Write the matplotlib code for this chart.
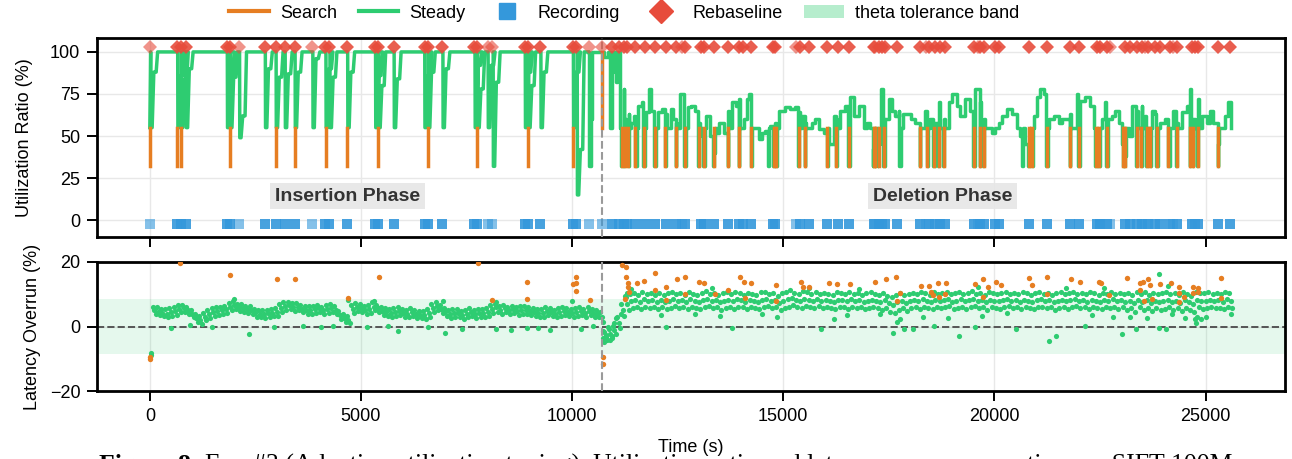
import matplotlib
matplotlib.use('Agg')
import matplotlib.pyplot as plt
import numpy as np
from matplotlib.lines import Line2D
from matplotlib.patches import Patch

plt.rcParams['font.family'] = ['Liberation Sans', 'DejaVu Sans']

GREEN = '#2ecc71'
ORANGE = '#e67e22'
BLUE = '#3498db'
RED = '#e74c3c'

PHASE_SPLIT = 10700
THETA = 8.5
FLOOR = 32
PROBE = 55

# --- insertion phase: dips away from the 100 % plateau ---
ins_t = [10, 650, 735, 850, 1825, 1900, 2115, 2725, 2980, 3195, 3430, 3850, 4160, 4255,
         4675, 5335, 5410, 5775, 6500, 6585, 6930, 7690, 7755, 8000, 8120, 8880, 8960,
         9250, 10020, 10110]
ins_search = [1, 1, 1, 0, 0, 1, 0, 0, 1, 0, 1, 0, 1, 0, 1, 0, 1, 0, 0, 1, 0, 0, 1, 0, 0, 0,
              1, 0, 1, 0]
ins_low = [55, 55, 55, 55, 55, 55, 49, 55, 55, 55, 55, 55, 55, 55, 55, 55, 55, 55, 55, 55,
           55, 55, 55, 55, 32, 55, 55, 55, 55, 15]
ins_mid = [88, 86, 84, 90, 82, 85, 62, 90, 85, 87, 88, 96, 90, 85, 88, 86, 80, 84, 86, 88,
           90, 92, 78, 92, 82, 88, 80, 88, 88, 42]

# --- transition + deletion phase trace (time, utilization) ---
ph2_t = [10380, 10400, 10440, 10470, 10760, 10850, 10905, 10940, 10965, 11040, 11060, 11080, 11135,
         11224, 11260, 11342, 11400, 11460, 11560, 11658, 11740, 11816, 11870, 11934, 12030, 12132,
         12230, 12329, 12400, 12463, 12565, 12644, 12740, 12825, 12920, 13015, 13080, 13173, 13275,
         13354, 13420, 13488, 13591, 13690, 13788, 13870, 13961, 14063, 14130, 14198, 14300, 14418,
         14500, 14576, 14695, 14813, 14900, 15050, 15150, 15286, 15360, 15444, 15520, 15602, 15690,
         15760, 15850, 15956,
         16075, 16193, 16270, 16351, 16470, 16588, 16667, 16785, 16903, 16980, 17061, 17130, 17179,
         17250, 17321, 17416, 17495, 17574, 17652, 17731, 17830, 17928, 18030, 18126, 18244, 18362,
         18481, 18599, 18678, 18796, 18915, 18994, 19112, 19191, 19309, 19427, 19546, 19664, 19743,
         19822, 19940, 20019, 20100, 20177, 20296, 20414, 20532, 20611, 20729, 20848, 20930, 21006,
         21084, 21163, 21281, 21399, 21517,
         21600, 21676, 21794, 21873, 21952, 22030, 22149, 22267, 22346, 22425, 22543, 22622, 22700,
         22780, 22858, 22937, 23016, 23095, 23174, 23253, 23371, 23490, 23568, 23647, 23727, 23805,
         23923, 24042, 24160, 24239, 24318, 24436, 24555, 24633, 24712, 24830, 24909, 25028, 25107,
         25186, 25303, 25382, 25461, 25540, 25597]
ph2_u = [100, 32, 60, 100, 97, 100, 55, 88, 100, 82, 100, 100, 55,
         78, 60, 63, 58, 62, 68, 70, 64, 78, 65, 60, 64, 66, 63, 66, 60, 58, 75, 62, 67, 68, 65, 58,
         50, 62, 50, 40, 52, 58, 52, 65, 70, 68, 72, 60, 72, 75, 55, 48, 52, 53, 56, 58, 65, 67, 66,
         67, 64, 62, 58, 55, 58, 60, 54, 52,
         45, 62, 60, 65, 68, 73, 62, 68, 55, 58, 55, 42, 40, 45, 78, 60, 72, 65, 62, 65, 63, 63, 60,
         58, 55, 65, 60, 58, 70, 60, 70, 75, 68, 62, 72, 65, 78, 70, 60, 55, 52, 55, 58, 62, 66, 63,
         55, 50, 45, 50, 62, 73, 78, 75, 60, 62, 58,
         60, 60, 63, 55, 75, 71, 73, 68, 55, 53, 60, 70, 60, 62, 65, 58, 45, 38, 50, 68, 65, 68, 62,
         55, 65, 63, 58, 60, 55, 65, 58, 64, 68, 78, 60, 72, 62, 58, 65, 58, 45, 55, 62, 70, 55]

del_search_t = [11170, 11248, 11327, 11500, 11697, 11957, 12210, 12463, 12667, 12998, 13117, 13354,
                13693, 13961, 14238, 14773, 14829, 15365, 15523, 16036, 16256, 16548, 17139, 17179,
                17258, 17376, 18244, 18402, 18560, 18678, 18796, 19506, 19664, 19743, 20807, 20887,
                21242, 21794, 21991, 22402, 22464, 22662, 23055, 23095, 23371, 23474, 23608, 23687,
                23845, 24120, 24318, 24633, 24712, 24815, 25303]
del_floor_t = [14640, 17750, 20650]
handover_t = [10712]

# --- rebaseline / recording events ---
event_t = [640, 735, 850, 1835, 1900, 2725, 2980, 3195, 3430, 4150, 4250, 4675, 5335, 5410, 5780,
           6510, 6590, 6926, 7680, 7755, 8880, 8960, 9250, 10020, 10100,
           10948, 11105, 11223, 11303, 11500, 11720, 11960, 12234, 12470, 12667, 13050, 13116,
           13355, 13700, 13950, 14040, 14235, 14760, 14813, 15404, 15601, 16036, 16285, 16548,
           17139, 17258, 17329, 17416, 17692, 18244, 18441, 18599, 18718, 18836, 19506, 19664,
           19743, 20019, 20097, 20807, 21242, 21794, 21991, 22425, 22504, 22662, 23095, 23213,
           23371, 23490, 23646, 23805, 23923, 24160, 24318, 24673, 24752, 24830, 25303, 25580]
event_light_t = [12, 2115, 3850, 8000, 8110, 10400, 10700, 12612, 15300, 17180, 18372, 19612,
                 22740, 23560, 24230]

# --- latency overrun, steady samples every 100 s (upper / middle / lower part of the cloud) ---
lat_up = [6.1, 5.9, 5.5, 5.4, 5.6, 6.0, 6.6, 6.8, 6.2, 5.1,
          3.8, 3.3, 4.2, 5.0, 5.8, 5.9, 6.2, 6.5, 7.4, 7.9,
          7.1, 6.9, 6.5, 6.3, 5.4, 5.0, 5.1, 5.2, 5.5, 5.8,
          6.9, 7.5, 7.6, 7.2, 7.3, 6.7, 6.4, 6.3, 6.5, 6.8,
          6.2, 6.6, 7.0, 6.3, 4.9, 3.8, 3.4, 6.6, 7.3, 7.0,
          6.4, 6.7, 7.5, 6.8, 6.0, 5.7, 5.4, 5.8, 6.1, 5.3,
          5.2, 5.6, 5.1, 4.9, 4.7, 5.3, 6.9, 7.6, 6.6, 5.7,
          5.0, 5.3, 5.5, 4.8, 5.2, 5.6, 5.0, 5.3, 5.5, 5.8,
          6.8, 7.1, 6.3, 6.8, 6.2, 6.5, 5.9, 6.3, 6.5, 6.0,
          5.7, 5.4, 5.3, 5.9, 5.6, 5.2, 5.7, 6.0, 5.8, 5.5,
          5.7, 6.1, 5.3, 5.9, 5.5, 5.2, 4.5, -1.8, -0.9, 0.3,
          2.9, 7.0, 9.2, 10.1, 10.4, 9.7, 10.6, 10.2, 10.3, 9.9,
          10.5, 9.9, 10.3, 10.8, 10.0, 10.4, 9.8, 10.7, 10.2, 9.9,
          10.4, 10.9, 10.1, 10.5, 9.7, 10.3, 10.6, 10.0, 10.8, 10.3,
          9.9, 10.5, 10.2, 9.8, 10.6, 10.8, 10.1, 10.4, 9.6, 10.3,
          10.7, 11.2, 10.5, 10.1, 10.9, 10.6, 10.2, 10.8, 10.0, 10.5,
          10.2, 9.8, 10.6, 10.3, 10.0, 10.7, 10.1, 10.5, 9.9, 10.3,
          10.6, 10.1, 9.8, 10.4, 9.6, 9.3, 9.9, 10.3, 9.7, 10.2,
          10.5, 10.0, 10.7, 10.3, 9.9, 10.6, 10.2, 10.4, 10.8, 10.0,
          10.3, 10.7, 10.1, 10.5, 10.9, 10.2, 10.4, 9.8, 10.6, 10.3,
          10.1, 10.5, 10.8, 10.2, 10.4, 10.0, 10.6, 10.3, 9.9, 10.5,
          10.7, 10.2, 10.4, 9.8, 10.3, 10.6, 10.1, 10.5, 10.8, 10.2,
          10.4, 10.0, 10.6, 10.3, 9.9, 10.5, 10.2, 10.7, 10.1, 10.4,
          10.0, 10.4, 9.8, 10.8, 10.2, 10.6, 9.9, 10.5, 10.1, 10.4,
          10.7, 10.1, 10.5, 9.9, 10.6, 10.2, 9.6, 10.8, 10.3, 10.5,
          10.6, 10.2, 10.4, 10.0, 10.7, 10.3]
lat_mid = [5.0, 4.6, 4.3, 4.0, 4.4, 4.8, 5.5, 5.7, 5.0, 3.9,
           2.6, 2.1, 3.1, 3.9, 4.5, 4.7, 5.0, 5.4, 6.2, 6.6,
           6.0, 5.7, 5.4, 5.0, 4.2, 3.9, 3.8, 4.1, 4.3, 4.6,
           5.8, 6.3, 6.6, 6.0, 6.1, 5.5, 5.2, 5.0, 5.3, 5.6,
           5.0, 5.4, 5.8, 5.1, 3.6, 2.6, 2.1, 5.4, 6.0, 5.8,
           5.2, 5.5, 6.2, 5.6, 4.8, 4.5, 4.2, 4.6, 4.9, 4.1,
           4.0, 4.4, 3.9, 3.7, 3.5, 4.1, 5.6, 6.3, 5.4, 4.5,
           3.8, 4.1, 4.3, 3.5, 4.0, 4.4, 3.8, 4.1, 4.2, 4.6,
           5.5, 5.9, 5.1, 5.6, 5.0, 5.3, 4.7, 5.1, 5.2, 4.8,
           4.5, 4.2, 4.1, 4.7, 4.4, 4.0, 4.5, 4.8, 4.6, 4.3,
           4.5, 4.9, 4.1, 4.7, 4.3, 4.0, 3.0, -3.2, -2.4, -1.0,
           1.2, 5.0, 7.0, 7.8, 8.2, 7.5, 8.4, 7.9, 8.1, 7.6,
           8.3, 7.7, 8.0, 8.5, 7.8, 8.2, 7.6, 8.4, 8.0, 7.7,
           8.1, 8.6, 7.9, 8.2, 7.5, 8.0, 8.3, 7.8, 8.4, 8.1,
           7.7, 8.2, 8.0, 7.6, 8.3, 8.5, 7.9, 8.1, 7.4, 8.0,
           8.4, 8.8, 8.2, 7.9, 8.6, 8.3, 8.0, 8.5, 7.8, 8.2,
           8.0, 7.6, 8.3, 8.1, 7.8, 8.4, 7.9, 8.2, 7.7, 8.0,
           8.3, 7.9, 7.5, 8.1, 7.2, 6.8, 7.6, 8.0, 7.4, 7.9,
           8.2, 7.8, 8.4, 8.0, 7.6, 8.3, 7.9, 8.1, 8.5, 7.7,
           8.0, 8.4, 7.8, 8.2, 8.6, 7.9, 8.1, 7.5, 8.3, 8.0,
           7.8, 8.2, 8.5, 7.9, 8.1, 7.7, 8.3, 8.0, 7.6, 8.2,
           8.4, 7.9, 8.1, 7.5, 8.0, 8.3, 7.8, 8.2, 8.5, 7.9,
           8.1, 7.7, 8.3, 8.0, 7.6, 8.2, 7.9, 8.4, 7.8, 8.1,
           7.5, 8.0, 7.2, 8.3, 7.7, 8.1, 7.4, 8.0, 7.6, 7.9,
           8.2, 7.6, 8.0, 7.3, 8.1, 7.7, 7.0, 8.2, 7.8, 8.0,
           8.3, 7.9, 8.1, 7.7, 8.4, 8.0]
lat_dn = [3.9, 3.5, 3.2, 2.9, 3.3, 3.7, 4.4, 4.5, 3.9, 2.8,
          1.4, 0.9, 2.0, 2.7, 3.4, 3.5, 3.9, 4.2, 5.1, 5.3,
          4.8, 4.6, 4.2, 3.8, 3.0, 2.8, 2.6, 3.0, 3.2, 3.4,
          4.6, 5.1, 5.5, 4.8, 5.0, 4.4, 4.0, 3.8, 4.2, 4.4,
          3.8, 4.3, 4.6, 3.9, 2.4, 1.5, 1.0, 4.2, 4.8, 4.6,
          4.0, 4.3, 5.0, 4.4, 3.6, 3.3, 3.0, 3.4, 3.7, 2.9,
          2.8, 3.2, 2.7, 2.5, 2.3, 2.9, 4.4, 5.1, 4.2, 3.3,
          2.6, 2.9, 3.1, 2.3, 2.8, 3.2, 2.6, 2.9, 3.0, 3.4,
          4.3, 4.6, 3.9, 4.4, 3.8, 4.1, 3.5, 3.9, 4.0, 3.6,
          3.3, 3.0, 2.9, 3.5, 3.2, 2.8, 3.3, 3.6, 3.4, 3.1,
          3.3, 3.7, 2.9, 3.5, 3.1, 2.8, 1.5, -4.2, -3.6, -2.2,
          -0.4, 3.2, 5.0, 5.6, 6.0, 5.3, 6.2, 5.7, 5.9, 5.4,
          6.1, 5.5, 5.8, 6.3, 5.6, 6.0, 5.3, 6.2, 5.8, 5.4,
          5.9, 6.4, 5.7, 6.0, 5.2, 5.8, 6.1, 5.5, 6.2, 5.9,
          5.4, 6.0, 5.8, 5.3, 6.1, 6.3, 5.7, 5.9, 5.1, 5.8,
          6.2, 6.6, 6.0, 5.7, 6.4, 6.1, 5.8, 6.3, 5.6, 6.0,
          5.8, 5.3, 6.1, 5.9, 5.5, 6.2, 5.7, 6.0, 5.4, 5.8,
          6.0, 5.6, 5.0, 5.8, 4.6, 4.2, 5.1, 5.7, 4.9, 5.6,
          6.0, 5.5, 6.2, 5.8, 5.3, 6.1, 5.6, 5.9, 6.3, 5.4,
          5.8, 6.2, 5.5, 6.0, 6.4, 5.7, 5.9, 5.2, 6.1, 5.8,
          5.5, 6.0, 6.3, 5.7, 5.9, 5.4, 6.1, 5.8, 5.3, 6.0,
          6.2, 5.6, 5.9, 5.2, 5.8, 6.1, 5.5, 6.0, 6.3, 5.7,
          5.9, 5.4, 6.1, 5.8, 5.3, 6.0, 5.6, 6.2, 5.5, 5.9,
          5.0, 5.7, 4.6, 6.0, 5.2, 5.8, 4.9, 5.7, 5.1, 5.5,
          5.9, 5.1, 5.7, 4.8, 5.8, 5.2, 4.4, 6.0, 5.5, 5.7,
          6.1, 5.6, 5.8, 5.4, 6.2, 5.7]

# steady samples away from the main cloud
lat_out_t = [20, 30, 500, 960, 1470, 2000, 2340, 2950, 3620, 4060, 4330, 4700, 5140, 5300, 5650,
             5880, 6580, 6950, 7000, 7400, 8190, 8200, 8550, 8920, 9200, 9480, 10000, 10220, 10500,
             10720, 10740, 10760, 10800, 10850, 10900, 10950, 11000, 11050, 11150, 11250, 11300,
             11400, 12100, 12230, 12900, 13300, 13500, 13780, 14500, 14850, 15600, 15900, 16200,
             16500, 16800, 17300, 17590, 17690, 17770, 17850, 18080, 18300, 18580, 18900, 19170,
             19550, 19600, 19700, 20300, 20500, 21280, 21460, 21700, 22150, 22300, 22600, 22800,
             23020, 23200, 23340, 23600, 23900, 23905, 24060, 24100, 24200, 24500, 24760, 24780,
             24790, 24900, 25000, 25600]
lat_out_v = [-8.2, -8.8, -0.4, 0.5, 0.0, 8.4, -2.3, 0.0, 0.3, -0.2, 0.2, 8.2, 0.0, 8.0, 0.1,
             -1.5, 0.0, 8.0, -1.9, -0.9, -0.7, 7.6, -1.2, -0.5, -0.4, -1.0, 8.0, -0.7, 0.1,
             -1.5, -3.5, -4.8, -2.5, -0.3, -4.2, -3.0, 1.2, 2.5, 3.9, 9.5, 10.5,
             11.5, 3.5, -0.3, 4.0, 11.8, 3.2, -0.6, 3.8, 2.8, 12.0, -0.9, 2.2,
             3.5, 11.5, 4.0, -2.1, 1.5, 2.2, -0.9, -0.8, 3.0, 0.3, 2.5, -2.9,
             0.0, 12.3, 3.2, 4.2, -0.8, -4.5, -2.9, 11.8, 0.1, 3.5, 12.0, 2.8,
             -2.2, 3.0, -0.8, 2.5, -0.4, 16.3, -0.8, 12.5, 3.8, 2.6, 2.2, 1.1,
             2.8, 2.4, 3.0, 4.0]

# search samples
search_lat_t = [10, 10, 716, 1905, 3003, 3436, 4702, 5419, 7766, 8109, 8935, 8935, 10024, 10093,
                10093, 10093, 10416, 10731, 10731, 11183, 11271, 11271, 11320, 11320, 11340, 11250,
                11524, 11697, 11964, 11964, 12231, 12231, 12488, 12676, 12676, 13003, 13121, 13377,
                13694, 13971, 14068, 14236, 14100, 14829, 14829, 15423, 15470, 15617, 16084, 16282,
                16578, 17182, 17428, 17676, 17700, 17764, 18268, 18455, 18653, 18851, 18500, 18690,
                18550, 18840, 19543, 19740, 19740, 19839, 20047, 20166, 20807, 20885, 21252, 21252,
                21816, 22023, 22470, 22516, 22705, 23129, 23446, 23524, 23624, 23693, 23456, 23740,
                23530, 23919, 24186, 24364, 24364, 24364, 24480, 24709, 24808, 24709, 24808, 25353,
                25353]
search_lat_v = [-9.3, -10.1, 19.8, 15.9, 14.6, 14.6, 8.8, 15.3, 19.8, 8.2, 13.7, 8.6, 13.2, 15.4,
                13.6, 11.1, 8.2, -9.6, -11.6, 19.1, 18.6, 15.4, 13.6, 12.4, 10.8, 8.4,
                13.6, 14.2, 16.5, 11.3, 12.3, 8.2, 14.6, 15.2, 10.2, 13.9, 13.4, 10.2,
                11.3, 15.4, 13.9, 13.6, 8.7, 12.9, 7.9, 13.9, 12.4, 12.4, 13.6, 13.2,
                13.2, 13.7, 14.6, 15.2, 8.0, 10.5, 12.6, 12.6, 13.4, 13.4, 10.8, 9.3,
                9.8, 10.1, 13.2, 14.6, 9.3, 12.3, 13.9, 12.9, 14.9, 12.9, 15.2, 10.2,
                14.6, 13.7, 13.9, 13.4, 9.8, 15.1, 13.4, 13.9, 14.6, 12.9, 11.3, 8.4,
                7.9, 13.2, 13.6, 12.4, 10.5, 7.7, 9.0, 12.4, 11.8, 10.3, 10.8, 15.1,
                8.7]

# ---------------- build line traces ----------------
ins_x, ins_y = [0], [PROBE]
for t0, lo, mid in zip(ins_t, ins_low, ins_mid):
    ins_x += [t0 + 10, t0 + 15, t0 + 45, t0 + 85, t0 + 140, t0 + 175]
    ins_y += [100, lo, lo, mid, mid, 100]
ins_x.append(ph2_t[0])
ins_y.append(100)

pts = list(zip(ph2_t, ph2_u))
for te in del_search_t:
    pts += [(te - 10, FLOOR), (te + 25, PROBE)]
for te in del_floor_t:
    pts += [(te, FLOOR), (te + 30, PROBE)]
pts.sort()
ph2_x = [p[0] for p in pts]
ph2_y = [p[1] for p in pts]

ox, oy = [], []
for t0, s in zip(ins_t, ins_search):
    if s:
        ox += [t0, t0, np.nan]
        oy += [PROBE, FLOOR, np.nan]
for te in del_search_t:
    ox += [te, te, np.nan]
    oy += [FLOOR, PROBE, np.nan]
for te in handover_t:
    ox += [te, te, np.nan]
    oy += [100, PROBE, np.nan]

# ---------------- figure ----------------
fig = plt.figure(figsize=(12.92, 4.59), dpi=100)
ax1 = fig.add_axes([0.0751, 0.4837, 0.9195, 0.4336])
ax2 = fig.add_axes([0.0751, 0.1481, 0.9195, 0.2811], sharex=ax1)

for ax in (ax1, ax2):
    ax.grid(True, color='#e8e8e8', linewidth=1.0, zorder=0)
    ax.set_axisbelow(True)
    for sp in ax.spines.values():
        sp.set_linewidth(2.0)
    ax.tick_params(direction='out', length=7, width=1.4, pad=5, labelsize=13)
    ax.axvline(PHASE_SPLIT, color='#9a9a9a', linestyle='--', linewidth=1.5, zorder=5)

# top panel
ax1.plot(ins_x, ins_y, color=GREEN, linewidth=2.5, zorder=3)
ax1.plot(ph2_x, ph2_y, color=GREEN, linewidth=2.5, drawstyle='steps-post', zorder=3)
ax1.plot(ox, oy, color=ORANGE, linewidth=2.5, zorder=4)

ax1.plot(event_t, [103] * len(event_t), 'D', color=RED, ms=7.5, mew=0, alpha=0.9, zorder=6)
ax1.plot(event_light_t, [103] * len(event_light_t), 'D', color=RED, ms=7.5, mew=0, alpha=0.6, zorder=6)
ax1.plot(event_t, [-2.5] * len(event_t), 's', color=BLUE, ms=6.5, mew=0, alpha=0.9, zorder=6)
ax1.plot(event_light_t, [-2.5] * len(event_light_t), 's', color=BLUE, ms=6.5, mew=0, alpha=0.6, zorder=6)

box = dict(boxstyle='square,pad=0.25', facecolor='#e6e6e6', edgecolor='none', alpha=0.9)
ax1.text(4685, 14.3, 'Insertion Phase', ha='center', va='center', fontsize=14,
         fontweight='bold', color='#333333', bbox=box, zorder=7)
ax1.text(18765, 14.3, 'Deletion Phase', ha='center', va='center', fontsize=14,
         fontweight='bold', color='#333333', bbox=box, zorder=7)

ax1.set_ylim(-10, 108.3)
ax1.set_yticks([0, 25, 50, 75, 100])
ax1.set_ylabel('Utilization Ratio (%)', fontsize=13, labelpad=12)
ax1.tick_params(labelbottom=False)

# bottom panel
lat_grid = 100 * np.arange(1, len(lat_mid) + 1)
ax2.axhspan(-THETA, THETA, color=GREEN, alpha=0.12, linewidth=0, zorder=1)
ax2.axhline(0, color='#555555', linestyle='--', linewidth=1.4, zorder=2)
ax2.scatter(lat_grid - 35, lat_up, s=14, color=GREEN, linewidths=0, zorder=3)
ax2.scatter(lat_grid, lat_mid, s=14, color=GREEN, linewidths=0, zorder=3)
ax2.scatter(lat_grid + 35, lat_dn, s=14, color=GREEN, linewidths=0, zorder=3)
ax2.scatter(lat_out_t, lat_out_v, s=14, color=GREEN, linewidths=0, zorder=3)
ax2.scatter(search_lat_t, search_lat_v, s=15, color=ORANGE, linewidths=0, zorder=4)

ax2.set_ylim(-20, 20)
ax2.set_yticks([-20, 0, 20])
ax2.set_xlim(-1250, 26880)
ax2.set_xticks([0, 5000, 10000, 15000, 20000, 25000])
ax2.set_ylabel('Latency Overrun (%)', fontsize=13, labelpad=6)
ax2.set_xlabel('Time (s)', fontsize=13, labelpad=10)

handles = [
    Line2D([], [], color=ORANGE, linewidth=3, label='Search'),
    Line2D([], [], color=GREEN, linewidth=3, label='Steady'),
    Line2D([], [], marker='s', linestyle='', color=BLUE, ms=12, label='Recording'),
    Line2D([], [], marker='D', linestyle='', color=RED, ms=12, label='Rebaseline'),
    Patch(facecolor=GREEN, alpha=0.35, edgecolor='none', label='theta tolerance band'),
]
fig.legend(handles=handles, loc='upper center', bbox_to_anchor=(0.483, 1.025), ncol=5,
           frameon=False, fontsize=13, handlelength=2.2, columnspacing=1.2, handletextpad=0.6)

# caption, cut off by the bottom edge
fig.text(0.077, 1 - 454 / 459, 'Figure 8:', fontsize=18.5, fontweight='bold', va='top',
         family=['Liberation Serif', 'DejaVu Serif'])
fig.text(0.159, 1 - 454 / 459,
         'Exp #3 (Adaptive utilization tuning). Utilization ratio and latency overrun over time on SIFT-100M.',
         fontsize=18.5, va='top', family=['Liberation Serif', 'DejaVu Serif'])

fig.savefig('out.png', dpi=100)
